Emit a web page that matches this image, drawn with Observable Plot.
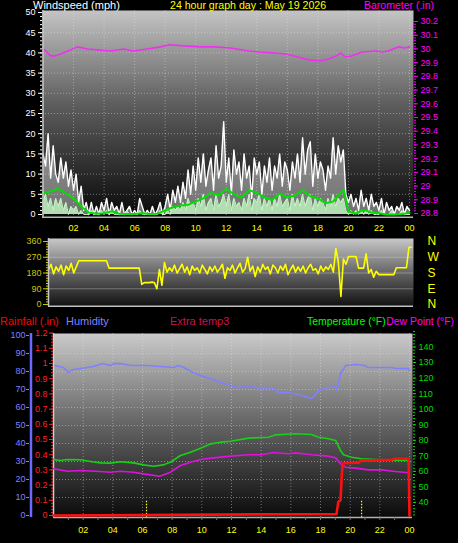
<!DOCTYPE html>
<html><head><meta charset="utf-8">
<script src="https://cdn.jsdelivr.net/npm/d3@7"></script>
<script src="https://cdn.jsdelivr.net/npm/@observablehq/plot@0.6"></script>
<style>
html,body{margin:0;padding:0;background:#000;}
#wrap{position:relative;width:458px;height:543px;background:#000;overflow:hidden;font-family:"Liberation Sans",Arial,sans-serif;}
#wrap svg{position:absolute;left:0;background:transparent !important;overflow:visible;max-width:none;}
.t{position:absolute;font-size:11px;white-space:nowrap;line-height:11px;}
</style></head>
<body><div id="wrap"></div>
<script>
// ---------- DATA ----------
const SAMPLE_MIN = 10; // wind samples every 10 minutes, 00:00 .. 24:00
const hourTicks = [2,4,6,8,10,12,14,16,18,20,22,24];
const hourLabels = ["02","04","06","08","10","12","14","16","18","20","22","00"];

const gust = [
 15,12,20,9,17,10,  8,14,9,13,7,11,  6,10,3,7,1,3,  0,3,0,2,0,3,  1,4,0,3,1,2,  0,3,0,1,2,0,
 1,0,4,2,0,1,  0,2,0,1,3,0,  2,5,1,6,3,7,  3,8,4,11,5,12,  6,14,8,15,7,11,  14,6,17,9,12,23,
 8,14,5,16,10,13,  6,15,9,12,4,14,  10,13,5,12,8,14,  6,12,9,15,7,13,  11,6,13,9,15,8,  19,10,16,18,7,15,
 9,13,11,6,12,9,  19,10,17,13,16,5,  3,5,2,4,1,6,  2,4,1,5,2,3,  1,4,0,3,1,2,  0,2,1,3,0,2,  1];
const speed = [
 3,5,2,4,1,4,  2,4,1,3,0,2,  1,2,0,1,0,0,  0,1,0,0,0,1,  0,1,0,1,0,0,  0,0,0,1,0,0,
 0,0,1,0,0,0,  0,0,0,0,1,0,  0,1,0,2,1,2,  1,3,1,4,2,3,  1,4,2,5,1,3,  4,1,5,2,3,5,
 2,5,1,4,2,3,  1,4,2,5,1,4,  3,5,1,4,2,4,  1,4,2,5,2,3,  4,1,5,2,4,2,  5,2,4,5,1,4,
 2,4,3,1,4,2,  5,2,4,3,4,1,  0,1,0,1,0,1,  0,1,0,1,0,0,  0,1,0,0,0,1,  0,0,0,1,0,0,  0];
const avgHours = [0,0.5,1,1.5,2,2.5,3,3.5,4,4.5,5,5.5,6,6.5,7,7.5,8,8.5,9,9.5,10,10.5,11,11.5,12,12.5,13,13.5,14,14.5,15,15.5,16,16.5,17,17.5,18,18.5,19,19.5,19.7,20,20.5,21,21.5,22,22.5,23,23.5,24];
const avgMph = [5.4,5.7,6.4,5.2,4.0,2.0,0.5,0.2,0.3,0.8,0.2,0.1,0.1,0.3,0.1,0.2,1.0,1.8,2.2,2.4,3.2,4.0,5.4,4.7,6.4,5.0,4.2,6.0,5.4,4.2,3.6,5.2,4.2,4.7,6.0,4.5,4.0,2.8,3.2,5.5,6.0,0.8,0.2,1.2,0.5,0.3,0,0,0.1,0.4];
const baroHours = [0.1,0.5,0.8,1.3,1.8,2.26,2.9,3.6,4.4,5.3,5.9,6.8,7.7,8.3,9.2,10.3,11.2,12.3,13.5,14.1,15.0,15.9,16.7,17.4,18.2,18.7,19.2,19.5,19.8,20.2,20.9,21.8,22.2,22.6,23.3,23.7,24.0];
const baroIn = [29.993,29.949,29.949,29.971,29.993,30.015,30.0,29.993,29.985,30.0,29.985,30.0,30.015,30.03,30.022,30.015,30.015,30.007,29.985,29.978,29.971,29.963,29.941,29.92,29.912,29.927,29.949,29.971,29.941,29.949,29.978,29.985,29.978,29.985,30.015,30.007,30.015];
const windDir = [
 200,230,175,215,190,225,  170,220,195,235,180,215,  250,250,250,250,250,250,  250,250,250,250,250,250,
 208,208,208,208,208,208,  208,208,208,208,208,208,  208,115,125,125,125,128,  125,90,200,110,240,185,
 210,190,225,180,205,230,  185,215,170,220,195,210,  180,225,200,175,215,190,  220,185,205,230,150,210,
 195,225,180,210,235,185,  205,270,190,220,160,215,  185,230,200,215,175,225,  210,180,220,195,230,170,
 200,225,185,215,190,220,  180,210,230,195,205,175,  220,190,215,200,230,185,  320,240,46,260,230,274,
 274,274,274,208,208,208,  290,180,200,156,190,171,  171,171,171,171,171,171,  210,210,210,210,210,327,  327];

const humHours = [0,0.13,0.67,1.0,1.28,1.82,2.7,3.3,3.84,4.05,4.5,5.2,6.3,7.2,8.1,8.4,8.8,9.4,9.9,10.6,11.3,11.9,12.5,13.1,14.0,14.7,15.2,15.8,16.5,17.4,17.9,18.3,19.0,19.1,19.35,19.7,20.4,21.0,21.2,22.8,23.1,23.9,24];
const humidity = [83,83.3,82.2,79.4,81,81.7,82.8,84.4,83.3,84.4,84.4,83.3,83.3,82.8,82.2,83.3,82.2,79.4,77.8,76,74,72.2,71,72.2,70.6,71,68.3,68.3,67.2,65,69.4,70.6,71.7,69.4,78.9,83.3,83.9,83.3,82.2,82.2,81.7,81.7,80.6];
const tempHours = [0,0.47,0.94,1.82,2.7,3.17,3.84,4.52,5.39,6.07,6.74,7.42,7.89,8.56,9.24,9.91,10.59,11.26,11.94,13.15,14.5,14.97,16.32,17.4,17.87,18.54,19.02,19.35,19.55,20.09,20.77,21.71,22.59,23.94];
const tempF = [67.7,67,67.7,67.5,66,65.5,65.3,66.2,65.5,64.2,63.3,64.2,66,70.2,72.3,74.9,77.7,78.8,79.4,81.4,82,83.5,84.2,83.7,82,81,79.9,73.4,70.7,69.1,68.1,67.7,67.4,67];
const dewHours = [0,0.94,1.82,3.17,3.84,4.52,5.39,6.07,7.15,7.89,8.56,9.24,9.91,10.79,11.94,13.15,14.03,14.83,15.85,16.32,17.4,18.54,19.02,19.35,19.69,20.36,21.24,22.12,23.06,23.94];
const dewF = [61.7,60.1,60.6,59.9,59.5,60.1,59.5,58.4,56.9,59.5,63.8,65.9,67.7,68.7,69.8,70.7,70.7,72.2,71.3,71.9,70.7,69.8,68.7,64.9,62.7,62.1,61,61,59.9,59.1];
const rainHours = [0,19.08,19.2,19.35,19.42,19.49,19.69,20.57,20.7,21.04,22.8,22.93,23.94,24.0];
const rainIn = [0,0.01,0.09,0.1,0.24,0.34,0.345,0.347,0.36,0.362,0.367,0.373,0.373,0];
const sunTimes = [6.27, 20.77];

const windTicks = [0,5,10,15,20,25,30,35,40,45,50];
const baroTicks = [28.8,28.9,29,29.1,29.2,29.3,29.4,29.5,29.6,29.7,29.8,29.9,30,30.1,30.2];
const dirTicks = [0,90,180,270,360];
const compass = ["N","E","S","W","N"];
const humTicks = [0,10,20,30,40,50,60,70,80,90,100];
const rainTicks = [0,0.1,0.2,0.3,0.4,0.5,0.6,0.7,0.8,0.9,1,1.1,1.2];
const tempTicks = [40,50,60,70,80,90,100,110,120,130,140];

// ---------- RENDER ----------
const W = 458;
const wrap = document.getElementById("wrap");
const font = '"Liberation Sans", Arial, sans-serif';
const style = {background: "transparent", fontFamily: font, fontSize: "9px", overflow: "visible"};
const windTimes = gust.map((_, i) => i * SAMPLE_MIN / 60);
const fmtHour = h => hourLabels[hourTicks.indexOf(h)];
const fmt1 = d => String(+d.toFixed(1));
const blank = () => "";
const dotted = {stroke: "#e0e0e0", strokeOpacity: 0.45, strokeDasharray: "1,2"};

function place(svg, top) { svg.style.top = top + "px"; wrap.appendChild(svg); return svg; }
function gradient(svg, id, stops) {
  const g = d3.select(svg).insert("defs", ":first-child").append("linearGradient")
    .attr("id", id).attr("x1", 0).attr("y1", 0).attr("x2", 0).attr("y2", 1);
  stops.forEach(([o, c]) => g.append("stop").attr("offset", o).attr("stop-color", c));
}
function label(text, pos, top, color) {
  const d = document.createElement("div");
  d.className = "t"; d.textContent = text;
  if (pos.left != null) d.style.left = pos.left + "px";
  if (pos.right != null) d.style.right = pos.right + "px";
  d.style.top = top + "px"; d.style.color = color;
  if (pos.size) d.style.fontSize = pos.size + "px";
  wrap.appendChild(d);
}

// Top panel: wind
const topDims = {width: W, height: 236, marginLeft: 42, marginRight: 45, marginTop: 10, marginBottom: 19, style};
const topX = {domain: [0, 24], range: [42.5, 409]};
const p1 = Plot.plot({...topDims, x: topX, y: {domain: [0, 50], range: [214, 12]},
  marks: [
    Plot.frame({fill: "url(#bgTop)", stroke: "none"}),
    Plot.ruleX(hourTicks, dotted),
    Plot.ruleY(windTicks.slice(1, -1), dotted),
    Plot.areaY(gust, {x: windTimes, y: gust, fill: "#ffffff", fillOpacity: 0.42}),
    Plot.lineY(gust, {x: windTimes, y: gust, stroke: "#ffffff", strokeWidth: 1.4}),
    Plot.areaY(speed, {x: windTimes, y: speed, fill: "#bdeebd", fillOpacity: 0.85}),
    Plot.lineY(speed, {x: windTimes, y: speed, stroke: "#c8f6c8", strokeWidth: 1}),
    Plot.lineY(avgMph, {x: avgHours, y: avgMph, stroke: "#00e000", strokeWidth: 2}),
    Plot.ruleX([0], {stroke: "#c8c8c8", strokeWidth: 1.5}),
    Plot.ruleY([-0.7], {stroke: "#b8b8b8", strokeWidth: 1.5}),
    Plot.axisY({ticks: d3.range(0, 51, 1), tickSize: 2, tickFormat: blank, color: "#ffffff"}),
    Plot.axisY({ticks: windTicks, tickSize: 4, tickPadding: 3, color: "#ffffff", label: null}),
    Plot.axisX({ticks: hourTicks, tickFormat: fmtHour, tickSize: 0, tickPadding: 7, color: "#ffff00", label: null})
  ]});
gradient(p1, "bgTop", [[0, "#c4c4c4"], [0.45, "#5e5e5e"], [1, "#080808"]]);
place(p1, 0);

const p2 = Plot.plot({...topDims, x: {...topX, axis: null}, y: {domain: [28.8, 30.2], range: [213, 21]},
  marks: [
    Plot.lineY(baroIn, {x: baroHours, y: baroIn, stroke: "#f030f0", strokeWidth: 1.6}),
    Plot.axisY({anchor: "right", ticks: d3.range(28.8, 30.21, 0.02), tickSize: 2, tickFormat: blank, color: "#ff00ff"}),
    Plot.axisY({anchor: "right", ticks: baroTicks, tickSize: 4, tickPadding: 3, tickFormat: fmt1, color: "#ff00ff", label: null})
  ]});
place(p2, 0);

// Middle panel: wind direction
const p3 = Plot.plot({width: W, height: 85, marginLeft: 48, marginRight: 45, marginTop: 8, marginBottom: 9, style,
  x: {domain: [0, 24], range: [48, 411], axis: null},
  y: {domain: [0, 360], range: [74, 11]},
  marks: [
    Plot.frame({fill: "url(#bgMid)", stroke: "none"}),
    Plot.ruleY([90, 180, 270], {stroke: "#e0e0e0", strokeOpacity: 0.35}),
    Plot.lineY(windDir, {x: windTimes, y: windDir, stroke: "#ffff00", strokeWidth: 1.6}),
    Plot.ruleX([0], {stroke: "#c8c8c8", strokeWidth: 1.5}),
    Plot.ruleY([-10], {stroke: "#c0c0c0", strokeWidth: 1.5}),
    Plot.axisY({ticks: d3.range(0, 361, 15), tickSize: 2, tickFormat: blank, color: "#c8c800"}),
    Plot.axisY({ticks: dirTicks, tickSize: 5, tickPadding: 2, color: "#c8c800", label: null}),
    Plot.axisY({anchor: "right", ticks: dirTicks, tickSize: 0, tickPadding: 14, fontSize: 12,
      tickFormat: d => compass[dirTicks.indexOf(d)], color: "#ffff00", label: null})
  ]});
gradient(p3, "bgMid", [[0, "#c8c8c8"], [0.5, "#666666"], [1, "#101010"]]);
place(p3, 230);

// Bottom panel
const botDims = {width: W, height: 218, marginLeft: 53, marginRight: 46, marginTop: 8, marginBottom: 26, style};
const botX = {domain: [0, 24], range: [53, 409]};
const p4 = Plot.plot({...botDims, x: botX, y: {domain: [0, 100], range: [190, 10]},
  marks: [
    Plot.frame({fill: "url(#bgBot)", stroke: "none"}),
    Plot.ruleX(hourTicks, dotted),
    Plot.ruleY(humTicks.slice(1, -1), dotted),
    Plot.ruleX(sunTimes, {y1: -1.2, y2: 8.5, stroke: "#ffff00", strokeWidth: 1.2, strokeDasharray: "1.5,1.5"}),
    Plot.lineY(humidity, {x: humHours, y: humidity, stroke: "#8080ff", strokeWidth: 1.6}),
    Plot.ruleX([0], {stroke: "#d0d0d0", strokeWidth: 1.5}),
    Plot.ruleY([-1.1], {stroke: "#b0b0b0", strokeWidth: 1.5}),
    Plot.ruleX([0], {dx: -22.5, stroke: "#6a6aff", strokeWidth: 2.5}),
    Plot.axisY({ticks: humTicks, dx: -24, tickSize: 3, tickPadding: 1, color: "#8080ff", label: null}),
    Plot.axisX({ticks: d3.range(1, 24, 1), tickSize: 3, tickFormat: blank, color: "#777777"}),
    Plot.axisX({ticks: hourTicks, tickFormat: fmtHour, tickSize: 0, tickPadding: 9, color: "#ffff00", label: null})
  ]});
gradient(p4, "bgBot", [[0, "#cacaca"], [0.45, "#6c6c6c"], [1, "#0a0a0a"]]);
place(p4, 325);

const p5 = Plot.plot({...botDims, x: {...botX, axis: null}, y: {domain: [40, 140], range: [177, 21.5]},
  marks: [
    Plot.lineY(tempF, {x: tempHours, y: tempF, stroke: "#18d018", strokeWidth: 1.6}),
    Plot.lineY(dewF, {x: dewHours, y: dewF, stroke: "#e010e0", strokeWidth: 1.6}),
    Plot.axisY({anchor: "right", ticks: d3.range(32, 151, 2), tickSize: 2, tickFormat: blank, color: "#00dd00"}),
    Plot.axisY({anchor: "right", ticks: tempTicks, tickSize: 3, tickPadding: 3, color: "#00dd00", label: null})
  ]});
place(p5, 325);

const p6 = Plot.plot({...botDims, x: {...botX, axis: null}, y: {domain: [0, 1.2], range: [190, 7.6]},
  marks: [
    Plot.lineY(rainIn, {x: rainHours, y: rainIn, stroke: "#ff1010", strokeWidth: 2.6}),
    Plot.axisY({ticks: d3.range(0, 1.201, 0.02), tickSize: 2, tickFormat: blank, color: "#ff2020"}),
    Plot.axisY({ticks: rainTicks, tickSize: 4, tickPadding: 2, tickFormat: fmt1, color: "#ff2020", label: null})
  ]});
place(p6, 325);

// Titles
label("Windspeed (mph)", {left: 33}, 0, "#ffffff");
label("24 hour graph day : May 19 2026", {left: 170, size: 10.6}, 0, "#ffff00");
label("Barometer (.in)", {right: 24, size: 10.5}, 0, "#ff00ff");
label("Rainfall (.in)", {left: 0}, 316, "#ff0000");
label("Humidity", {left: 66}, 316, "#8080ff");
label("Extra temp3", {left: 170}, 316, "#cc1150");
label("Temperature (°F)", {left: 307, size: 10.4}, 316, "#00ff00");
label("Dew Point (°F)", {right: 4, size: 10.4}, 316, "#ff00ff");
</script></body></html>
